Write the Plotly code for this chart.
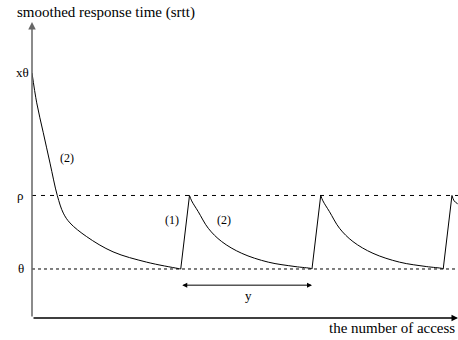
import plotly.graph_objects as go

# levels (arbitrary units)
theta = 1.0
rho = 2.5
x_theta = 5.0
x_end = 48.69
y_top = 6.04

# decay segments (2): srtt decreasing toward theta
decay_x = [
    [0, 0.54, 1.29, 2.06, 2.89, 3.58, 4.34, 6.25, 9.26, 13.1, 16.7, 17],
    [18, 18.25, 19.0, 20.15, 21.68, 23.97, 27.0, 30.06, 31.9, 32],
    [33, 33.25, 34.0, 35.15, 36.68, 38.97, 42.0, 45.06, 46.9, 47],
    [48, 48.25, 48.65],
]
decay_y = [
    [5.0, 4.39, 3.78, 3.16, 2.50, 2.14, 1.94, 1.66, 1.35, 1.14, 1.01, 1.0],
    [2.5, 2.39, 2.17, 1.83, 1.56, 1.32, 1.14, 1.05, 1.01, 1.0],
    [2.5, 2.39, 2.17, 1.83, 1.56, 1.32, 1.14, 1.05, 1.01, 1.0],
    [2.5, 2.39, 2.33],
]
# jump segments (1): srtt jumps from theta to rho
jump_x = [[17, 18], [32, 33], [47, 48]]
jump_y = [[1.0, 2.5], [1.0, 2.5], [1.0, 2.5]]

y_interval = [17, 32]
y_interval_level = 0.67

level_labels = ["xθ", "ρ", "θ"]
level_values = [x_theta, rho, theta]

font = "'Liberation Serif', 'Times New Roman', Times, 'DejaVu Serif', serif"

W, H = 458, 340
ML, MR, MT, MB = 32, 0, 22, 22
PW, PH = W - ML - MR, H - MT - MB

def xp(page_x):
    return (page_x - ML) / PW

def yp(page_y):
    return (H - MB - page_y) / PH

def yp_data(v):
    return v / y_top

def xp_data(v):
    return v / x_end

fig = go.Figure()

fig.add_trace(go.Scatter(x=[0, x_end], y=[rho, rho], mode="lines",
                         line=dict(color="black", width=1, dash="4px,5px"), hoverinfo="skip"))
fig.add_trace(go.Scatter(x=[0, x_end], y=[theta, theta], mode="lines",
                         line=dict(color="black", width=1, dash="3px,3px"), hoverinfo="skip"))

for xs, ys in zip(decay_x, decay_y):
    fig.add_trace(go.Scatter(x=xs, y=ys, mode="lines", hoverinfo="skip",
                             line=dict(color="black", width=1, shape="spline", smoothing=1.0)))
for xs, ys in zip(jump_x, jump_y):
    fig.add_trace(go.Scatter(x=xs, y=ys, mode="lines", hoverinfo="skip",
                             line=dict(color="black", width=1)))

ann = []
# axes arrows
ann.append(dict(x=0, y=y_top, ax=0, ay=0, xref="x", yref="y", axref="x", ayref="y",
                text="", showarrow=True, arrowhead=2, arrowsize=1, arrowwidth=1.5,
                arrowcolor="#666", standoff=0, startstandoff=0))
ann.append(dict(x=x_end, y=0, ax=0, ay=0, xref="x", yref="y", axref="x", ayref="y",
                text="", showarrow=True, arrowhead=2, arrowsize=1, arrowwidth=1.3,
                arrowcolor="black", standoff=0, startstandoff=0))
# y interval double arrow
ann.append(dict(x=y_interval[1], y=y_interval_level, ax=y_interval[0], ay=y_interval_level,
                xref="x", yref="y", axref="x", ayref="y", text="", showarrow=True,
                arrowhead=2, startarrowhead=2, arrowside="end+start", arrowsize=1,
                arrowwidth=1, arrowcolor="black", standoff=0, startstandoff=0))

def label(text, x, y, xanchor="center", yanchor="middle", size=12):
    ann.append(dict(x=x, y=y, xref="paper", yref="paper", text=text, showarrow=False,
                    xanchor=xanchor, yanchor=yanchor, borderpad=0,
                    font=dict(family=font, size=size, color="black")))

label_right = [30, 25, 25]
for t, v, r in zip(level_labels, level_values, label_right):
    label(t, xp(r), yp_data(v), xanchor="right", size=13)

label("(2)", xp_data(4.0), yp_data(3.27))
label("(1)", xp_data(16.0), yp_data(2.0))
label("(2)", xp_data(22.0), yp_data(2.0))
label("y", xp_data(24.8), yp_data(0.45), size=13)

label("smoothed response time (srtt)", xp(16), yp(12), xanchor="left", size=15)
label("the number of access", xp(456), yp(328), xanchor="right", size=15)

fig.update_layout(
    width=W, height=H,
    margin=dict(l=ML, r=MR, t=MT, b=MB),
    paper_bgcolor="white", plot_bgcolor="white",
    showlegend=False,
    hovermode=False,
    font=dict(family=font),
    annotations=ann,
    xaxis=dict(range=[0, x_end], visible=False),
    yaxis=dict(range=[0, y_top], visible=False),
)

fig.write_html("out.html", config={"displayModeBar": False, "staticPlot": True},
               post_script="document.body.style.margin='0px';document.body.style.overflow='hidden';")
